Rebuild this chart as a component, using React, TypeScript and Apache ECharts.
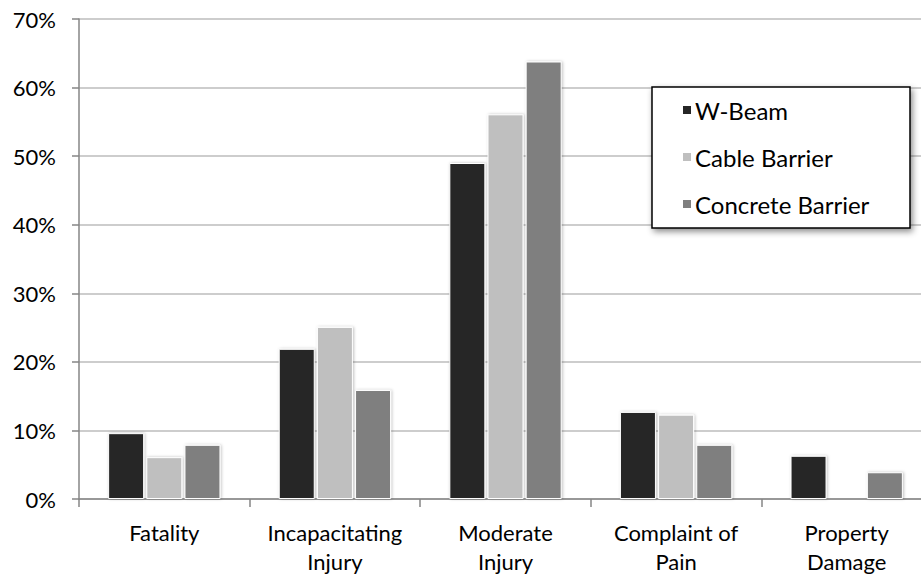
import React, { useEffect, useRef } from "react";
import * as echarts from "echarts";

const categories = ["Fatality", "Incapacitating\nInjury", "Moderate\nInjury", "Complaint of\nPain", "Property\nDamage"];
const seriesNames = ["W-Beam", "Cable Barrier", "Concrete Barrier"];
const wBeam = [9.6, 21.9, 49.0, 12.7, 6.3];
const cableBarrier = [6.1, 25.1, 56.1, 12.3, 0];
const concreteBarrier = [7.9, 15.9, 63.8, 7.9, 3.9];
const colors = ["#262626", "#bfbfbf", "#7f7f7f"];
const yTicks = { min: 0, max: 70, interval: 10 };

const FONT = "Lato, 'Open Sans', sans-serif";

export default function App() {
  const ref = useRef<HTMLDivElement>(null);
  useEffect(() => {
    document.body.style.margin = "0";
    document.body.style.overflow = "hidden";
    document.documentElement.style.overflow = "hidden";
    const chart = echarts.init(ref.current!, null, { renderer: "svg" });
    const values = [wBeam, cableBarrier, concreteBarrier];
    chart.setOption({
      animation: false,
      backgroundColor: "#ffffff",
      grid: { left: 79, top: 19, right: 0, bottom: 78, containLabel: false },
      graphic: [
        {
          type: "rect",
          z: 3,
          shape: { x: 652, y: 87, width: 258, height: 141 },
          style: {
            fill: "#fff",
            stroke: "#000",
            lineWidth: 1.5,
            shadowBlur: 6,
            shadowColor: "rgba(0,0,0,0.45)",
            shadowOffsetX: 2,
            shadowOffsetY: 3,
          },
        },
      ],
      legend: {
        orient: "vertical",
        left: 652,
        top: 87,
        z: 5,
        padding: [9, 10, 10, 29],
        itemGap: 19,
        itemWidth: 10,
        itemHeight: 10,
        icon: "rect",
        borderWidth: 0,
        textStyle: { fontFamily: FONT, fontSize: 24, lineHeight: 28, color: "#000", padding: [0, 0, 0, -2] },
        data: seriesNames,
      },
      xAxis: {
        type: "category",
        data: categories,
        axisLine: { lineStyle: { color: "#868686", width: 1.5 } },
        axisTick: { show: true, length: 8, alignWithLabel: false, lineStyle: { color: "#868686", width: 1.5 } },
        axisLabel: { interval: 0, fontFamily: FONT, fontSize: 22, color: "#000", margin: 19, lineHeight: 29 },
      },
      yAxis: {
        type: "value",
        min: yTicks.min,
        max: yTicks.max,
        interval: yTicks.interval,
        axisLine: { show: true, lineStyle: { color: "#868686", width: 1.5 } },
        axisTick: { show: true, length: 7, lineStyle: { color: "#868686", width: 1.5 } },
        splitLine: { lineStyle: { color: "#bcbcbc", width: 1.5 } },
        axisLabel: { fontFamily: FONT, fontSize: 22, color: "#000", margin: 23, formatter: "{value}%" },
      },
      series: seriesNames.map((name, i) => ({
        name,
        type: "bar",
        data: values[i],
        barWidth: 36,
        barGap: "6%",
        itemStyle: {
          color: colors[i],
          borderColor: "#fff",
          borderWidth: 1,
          shadowBlur: 3,
          shadowColor: "rgba(0,0,0,0.25)",
          shadowOffsetX: 1,
          shadowOffsetY: 0,
        },
      })),
    });
    return () => chart.dispose();
  }, []);
  return <div ref={ref} style={{ position: "fixed", left: 0, top: 0, width: 932, height: 577 }} />;
}
